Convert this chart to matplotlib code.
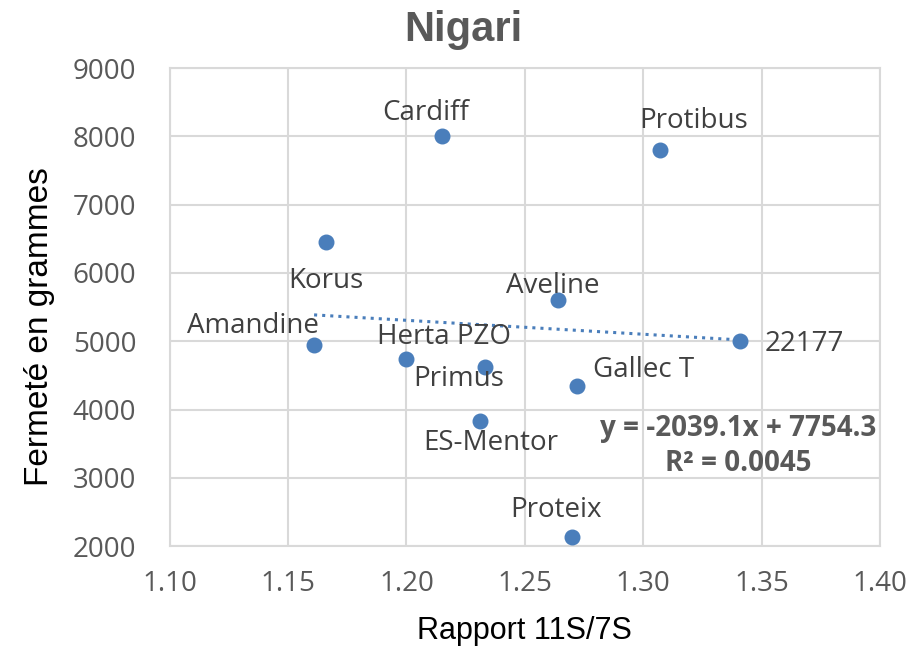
import numpy as np
import matplotlib.pyplot as plt

varieties = ['Cardiff', 'Protibus', 'Korus', 'Aveline', '22177', 'Amandine',
             'Herta PZO', 'Primus', 'Gallec T', 'ES-Mentor', 'Proteix']
ratio = [1.215, 1.307, 1.166, 1.264, 1.341, 1.161, 1.200, 1.233, 1.272, 1.231, 1.270]
firmness = [8010, 7800, 6450, 5600, 5000, 4940, 4740, 4630, 4340, 3830, 2140]

# label offsets in points (dx, dy) roughly like the Excel data labels
offsets = [(-12, 16), (24, 21), (0, -28), (-4, 10), (46, -2), (-44, 14),
           (27, 16), (-19, -9), (48, 12), (8, -16), (-12, 19)]

slope, intercept = -2039.1, 7754.3

fig, ax = plt.subplots(figsize=(9.12, 6.48), dpi=100)
fig.subplots_adjust(left=0.186, right=0.965, top=0.895, bottom=0.157)

blue = '#4A7EBB'
ax.scatter(ratio, firmness, s=110, color=blue, zorder=3)

xs = np.array([min(ratio), max(ratio)])
ax.plot(xs, slope * xs + intercept, linestyle=':', color=blue, linewidth=2.2, zorder=2)

for name, x, y, (dx, dy) in zip(varieties, ratio, firmness, offsets):
    ax.annotate(name, (x, y), xytext=(dx, dy), textcoords='offset points',
                ha='center', va='center', fontsize=20, color='#404040',
                family='Open Sans')

ax.text(1.340, 3466, 'y = -2039.1x + 7754.3\nR\u00b2 = 0.0045', ha='center', va='center',
        fontsize=20, fontweight='bold', color='#595959', family='Open Sans',
        linespacing=1.3)

ax.set_xlim(1.10, 1.40)
ax.set_ylim(2000, 9000)
ax.set_xticks(np.arange(1.10, 1.401, 0.05))
ax.set_yticks(range(2000, 9001, 1000))
ax.xaxis.set_major_formatter(plt.FormatStrFormatter('%.2f'))
ax.grid(True, color='#D9D9D9', linewidth=1.5)
ax.set_axisbelow(True)
for s in ax.spines.values():
    s.set_color('#D9D9D9')
    s.set_linewidth(1.5)
ax.tick_params(length=0, labelsize=20, colors='#595959', pad=10)
for lab in ax.get_xticklabels() + ax.get_yticklabels():
    lab.set_family('Open Sans')
ax.tick_params(axis='x', pad=17)
ax.tick_params(axis='y', pad=24)

fig.text(0.508, 0.953, 'Nigari', ha='center', va='center', fontsize=30,
         fontweight='bold', color='#595959', family='Liberation Sans')
ax.set_xlabel('Rapport 11S/7S', fontsize=22, family='Liberation Sans')
ax.set_ylabel('Fermeté en grammes', fontsize=24, family='Liberation Sans')
ax.xaxis.set_label_coords(0.5, -0.145)
ax.yaxis.set_label_coords(-0.162, 0.46)

fig.savefig('out.png', dpi=100)
